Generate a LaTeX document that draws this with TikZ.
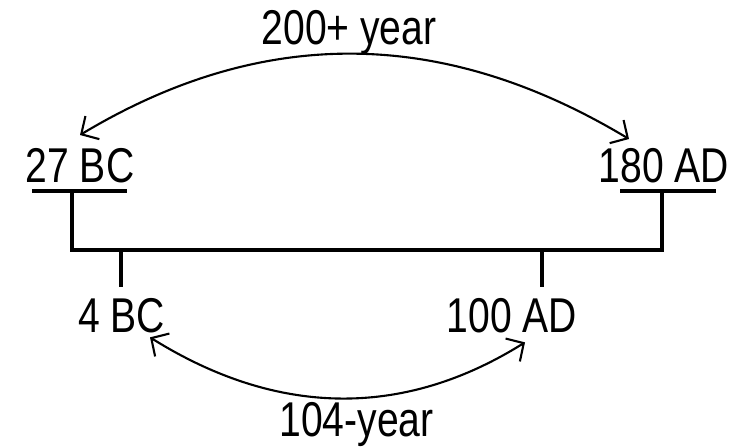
\documentclass[tikz,border=0pt]{standalone}
\usepackage{fontspec}
\setmainfont[FakeStretch=0.8]{Liberation Sans}
\usetikzlibrary{arrows.meta}
\begin{document}
\begin{tikzpicture}[
    lbl/.style={anchor=base, inner sep=2pt, font=\fontsize{27.8}{30}\selectfont},
    bar/.style={line width=2pt},
    span/.style={line width=1.2pt, {Straight Barb[length=2.6mm,width=5.4mm]}-{Straight Barb[length=2.6mm,width=5.4mm]}}
]
    \useasboundingbox (0,0) rectangle (14.82,8.96);

    % Labels
    \node[lbl] (bc27) at (1.6,5.3) {27 BC};
    \node[lbl] (ad180) at (13.28,5.3) {180 AD};
    \node[lbl] (bc4) at (2.43,2.3) {4 BC};
    \node[lbl] (ad100) at (10.24,2.3) {100 AD};
    \node[lbl] (long) at (6.98,8.06) {200+ year};
    \node[lbl] (short) at (7.13,0.22) {104-year};

    % Draw underlines
    \draw[bar] (0.64,5.14) -- (2.54,5.14);
    \draw[bar] (12.4,5.14) -- (14.32,5.14);

    % Draw timeline
    \draw[bar] (1.44,5.14) |- (13.24,3.96) -- (13.24,5.14);
    \draw[bar] (2.42,3.96) -- (2.42,3.22);
    \draw[bar] (10.84,3.96) -- (10.84,3.22);

    % Draw spans
    \draw[span] ([yshift=0.2cm]bc27.north) to[out=31,in=149] ([xshift=-0.7cm,yshift=0.12cm]ad180.north);
    \draw[span] ([xshift=0.57cm]bc4.south) to[out=-32,in=-148] ([xshift=0.26cm,yshift=-0.1cm]ad100.south);
\end{tikzpicture}
\end{document}
